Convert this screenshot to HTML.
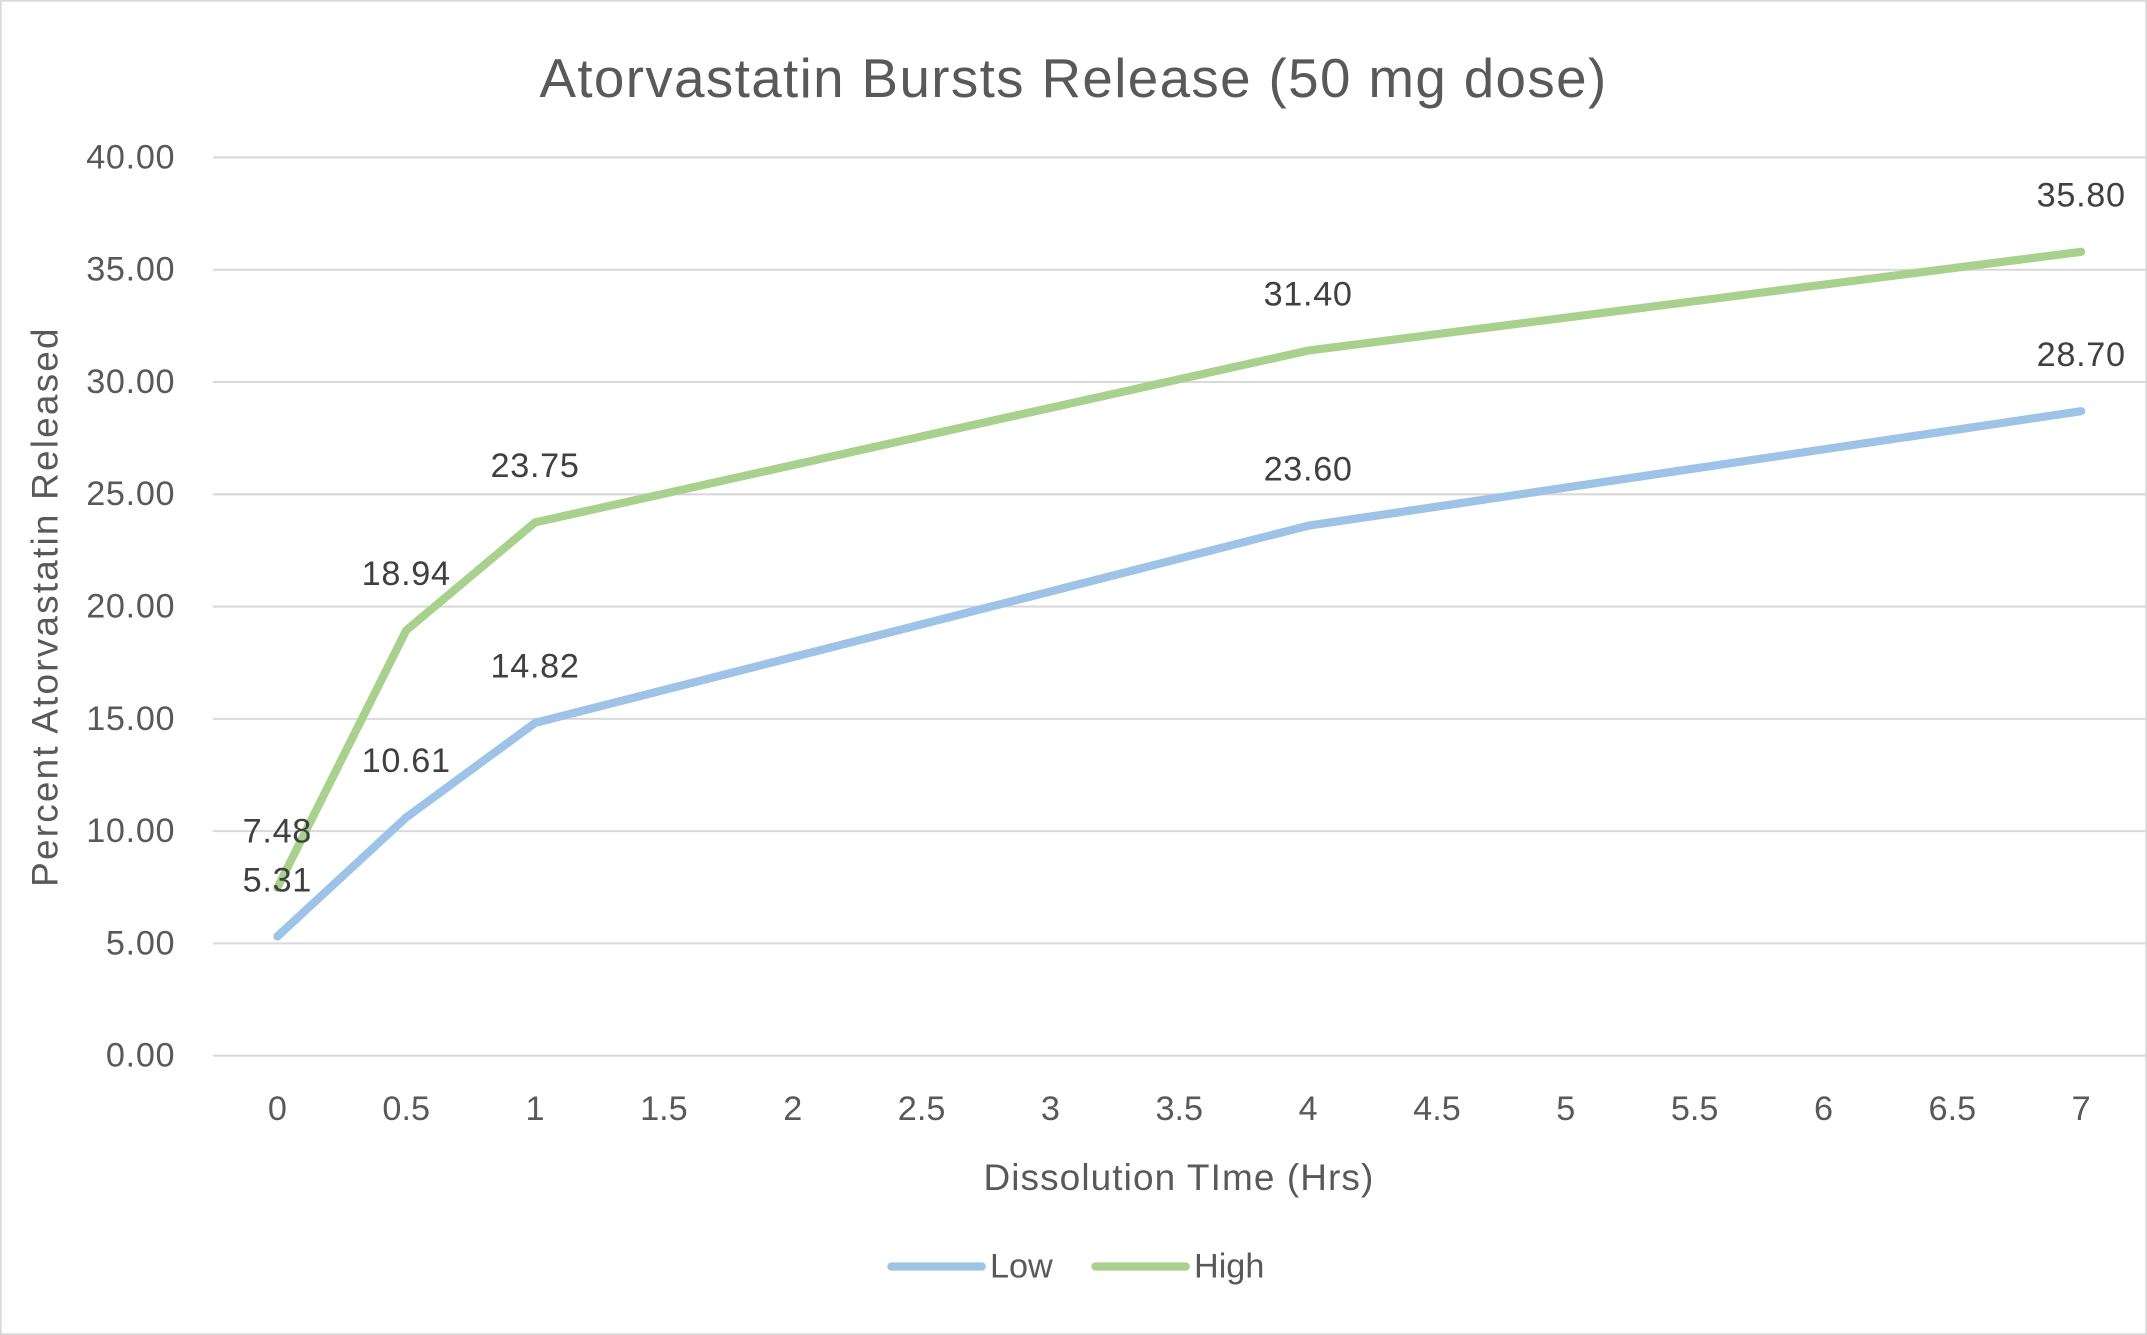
<!DOCTYPE html>
<html><head><meta charset="utf-8"><style>
html,body{margin:0;padding:0;background:#fff;}
svg{display:block;font-family:"Liberation Sans",Calibri,sans-serif;}
</style></head><body>
<svg id="chart" width="2147" height="1335" viewBox="0 0 1568 975" xmlns="http://www.w3.org/2000/svg">
<rect x="0.5" y="0.5" width="1567" height="974" fill="#fff" stroke="#d9d9d9" stroke-width="1.5"/>
<text x="784" y="71" text-anchor="middle" font-size="40" letter-spacing="1" fill="#595959">Atorvastatin Bursts Release (50 mg dose)</text>
<g id="grid"></g>
<g id="yticks"></g>
<g id="xticks"></g>
<g id="series"></g>
<g id="labels"></g>
<text transform="translate(42,443) rotate(-90)" text-anchor="middle" font-size="27" letter-spacing="1.6" fill="#595959">Percent Atorvastatin Released</text>
<text x="861" y="869" text-anchor="middle" font-size="27" letter-spacing="0.8" fill="#595959">Dissolution TIme (Hrs)</text>
<g>
<g><line x1="651" y1="925" x2="717" y2="925" stroke="#9dc3e6" stroke-width="6" stroke-linecap="round"/><text x="723" y="933" font-size="25" fill="#595959">Low</text></g>
<g><line x1="800" y1="925" x2="866" y2="925" stroke="#a9d18e" stroke-width="6" stroke-linecap="round"/><text x="872" y="933" font-size="25" fill="#595959">High</text></g>
</g>
</svg>
<script>
const categories = ["0","0.5","1","1.5","2","2.5","3","3.5","4","4.5","5","5.5","6","6.5","7"];
const pointCats = ["0","0.5","1","4","7"];
const lowValues = [5.31,10.61,14.82,23.60,28.70];
const highValues = [7.48,18.94,23.75,31.40,35.80];
const yTicks = [0,5,10,15,20,25,30,35,40];
const ns="http://www.w3.org/2000/svg";
const x0=155.5, x1=1567, yBase=771, yTop=115, yMax=40;
const step=(x1-x0)/categories.length;
function xPos(c){return x0+step*(categories.indexOf(c)+0.5);}
function yPos(v){return yBase-(v/yMax)*(yBase-yTop);}
function mk(tag,attrs,parent){const e=document.createElementNS(ns,tag);for(const k in attrs)e.setAttribute(k,attrs[k]);parent.appendChild(e);return e;}
const grid=document.getElementById('grid'),yt=document.getElementById('yticks'),xt=document.getElementById('xticks');
yTicks.forEach(v=>{
  const l=mk('line',{x1:x0,x2:x1,y1:yPos(v),y2:yPos(v),stroke:'#d9d9d9','stroke-width':1.5},grid);
  
  
  const t=mk('text',{x:128,y:yPos(v)+8,'text-anchor':'end','font-size':25,'letter-spacing':0.5,fill:'#595959'},yt);
  
  
  t.textContent=v.toFixed(2);
});
categories.forEach(c=>{
  const t=mk('text',{x:xPos(c),y:818,'text-anchor':'middle','font-size':25,fill:'#595959'},xt);
  
  
  t.textContent=c;
});
const ser=document.getElementById('series'),lab=document.getElementById('labels');
function draw(vals,color,name){
  const pts=vals.map((v,i)=>xPos(pointCats[i])+','+yPos(v)).join(' ');
  const p=mk('polyline',{points:pts,fill:'none',stroke:color,'stroke-width':6,'stroke-linejoin':'round','stroke-linecap':'round'},ser);
  
  
  vals.forEach((v,i)=>{
    const t=mk('text',{x:xPos(pointCats[i]),y:yPos(v)-33,'text-anchor':'middle','font-size':25,'letter-spacing':0.5,fill:'#404040'},lab);
    
    
    t.textContent=v.toFixed(2);
  });
}
draw(lowValues,'#9dc3e6','low');
draw(highValues,'#a9d18e','high');
</script>
</body></html>
